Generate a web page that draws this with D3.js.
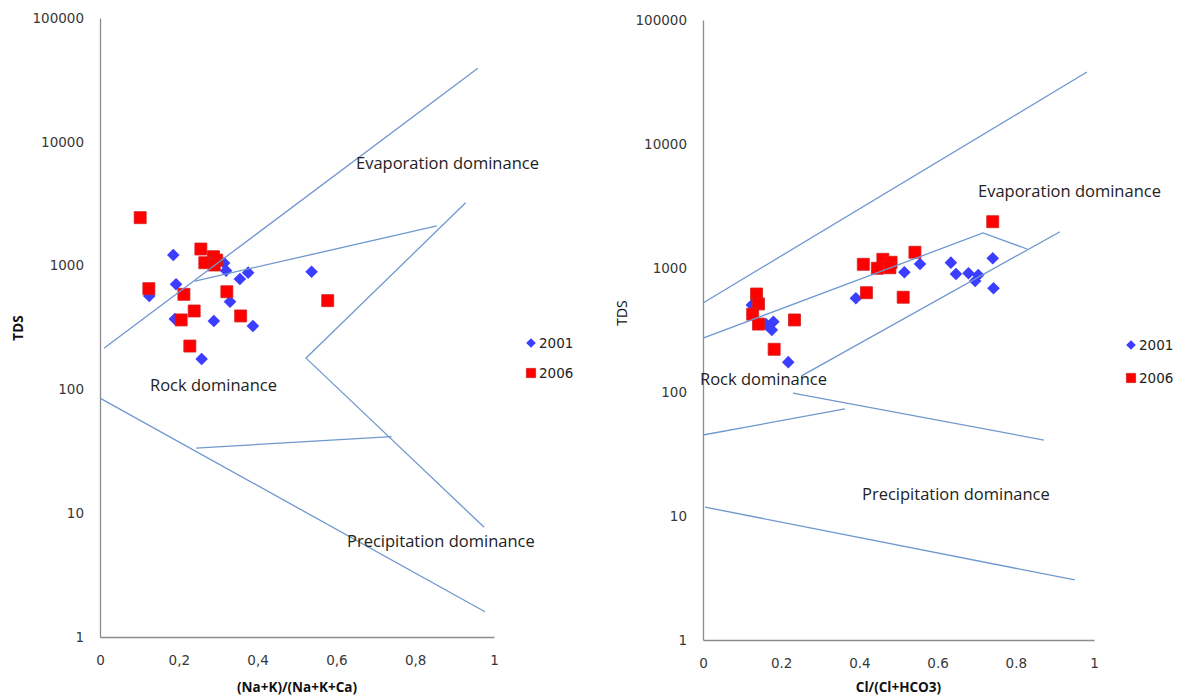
<!DOCTYPE html>
<html>
<head>
<meta charset="utf-8">
<script src="https://cdn.jsdelivr.net/npm/d3@7"></script>
<style>
  body { margin: 0; background: #fff; }
  .tick text { font-family: "DejaVu Sans", sans-serif; font-size: 13.5px; fill: #383838; }
  .note { font-family: "Open Sans", sans-serif; font-size: 16.5px; fill: #222; }
  .title { font-family: "Open Sans", sans-serif; font-size: 13.5px; fill: #111; }
  .legend { font-family: "DejaVu Sans", sans-serif; font-size: 13.5px; fill: #222; }
</style>
</head>
<body>
<script>
const width = 1180, height = 698;

const yTicks = [1, 10, 100, 1000, 10000, 100000];
const xTicks = [0, 0.2, 0.4, 0.6, 0.8, 1];
const seriesNames = ['2001', '2006'];

// left panel: (Na+K)/(Na+K+Ca) vs TDS
const leftX2001 = [0.186, 0.193, 0.125, 0.190, 0.289, 0.258, 0.330, 0.320, 0.355, 0.376, 0.537, 0.388, 0.315];
const leftY2001 = [1218, 706, 568, 370, 357, 176, 511, 910, 780, 877, 893, 325, 1050];
const leftX2006 = [0.102, 0.124, 0.256, 0.288, 0.296, 0.266, 0.290, 0.213, 0.322, 0.239, 0.206, 0.357, 0.228, 0.578];
const leftY2006 = [2440, 651, 1361, 1180, 1109, 1055, 1011, 586, 615, 430, 364, 392, 224, 521];
const leftBounds = [
  [[0.01, 215], [0.959, 39300]],
  [[0.241, 750], [0.855, 2090]],
  [[0.928, 3220], [0.523, 179], [0.975, 7.7]],
  [[0, 85], [0.977, 1.6]],
  [[0.244, 33.6], [0.740, 41.5]]
];

// right panel: Cl/(Cl+HCO3) vs TDS
const rightX2001 = [0.741, 0.743, 0.555, 0.515, 0.634, 0.647, 0.679, 0.704, 0.696, 0.391, 0.180, 0.176, 0.161, 0.218, 0.125];
const rightY2001 = [1197, 686, 1077, 923, 1104, 895, 906, 879, 786, 570, 369, 316, 353, 174, 503];
const rightX2006 = [0.741, 0.542, 0.410, 0.460, 0.481, 0.446, 0.478, 0.418, 0.512, 0.137, 0.142, 0.127, 0.142, 0.234, 0.182];
const rightY2006 = [2362, 1340, 1071, 1175, 1112, 995, 1005, 632, 581, 617, 513, 424, 353, 381, 221];
const rightBounds = [
  [[0, 522], [0.982, 38100]],
  [[0, 272], [0.716, 1915], [0.829, 1423]],
  [[0.252, 135], [0.913, 1962]],
  [[0.230, 98], [0.872, 41]],
  [[0, 45], [0.363, 73]],
  [[0.005, 11.8], [0.951, 3.05]]
];

const svg = d3.select('body').append('svg')
  .attr('width', width)
  .attr('height', height);

const diamond = r => `M0,${-r}L${r},0L0,${r}L${-r},0Z`;
const square = r => `M${-r},${-r}H${r}V${r}H${-r}Z`;

function panel(p) {
  const x = d3.scaleLinear().domain([0, 1]).range([p.x0, p.x1]);
  const y = d3.scaleLog().domain([1, 100000]).range([p.y0, p.y1]);
  const g = svg.append('g');

  g.append('g')
    .attr('transform', `translate(${p.x0},0)`)
    .call(d3.axisLeft(y).tickValues(yTicks).tickFormat(d3.format('d')).tickSize(0).tickPadding(16));
  g.append('g')
    .attr('transform', `translate(0,${p.y0})`)
    .call(d3.axisBottom(x).tickValues(xTicks).tickFormat(p.fmt).tickSize(0).tickPadding(18));
  g.selectAll('.domain').attr('stroke', '#8c8c8c').attr('stroke-width', 1.3);

  const pts2001 = p.x2001.map((v, i) => [v, p.y2001[i]]);
  const pts2006 = p.x2006.map((v, i) => [v, p.y2006[i]]);

  g.selectAll('.d2001').data(pts2001).enter().append('path')
    .attr('transform', d => `translate(${x(d[0])},${y(d[1])})`)
    .attr('d', diamond(6.3))
    .attr('fill', '#3b3dff');

  g.selectAll('.d2006').data(pts2006).enter().append('path')
    .attr('transform', d => `translate(${x(d[0])},${y(d[1])})`)
    .attr('d', square(6))
    .attr('fill', '#ff0000')
    .attr('stroke', '#d42020')
    .attr('stroke-width', 0.8);

  const line = d3.line().x(d => x(d[0])).y(d => y(d[1]));
  g.selectAll('.bound').data(p.bounds).enter().append('path')
    .attr('d', line)
    .attr('fill', 'none')
    .attr('stroke', '#6f98cf')
    .attr('stroke-width', 1.3);

  p.notes.forEach(n => {
    g.append('text').attr('class', 'note').attr('x', n[1]).attr('y', n[2]).text(n[0]);
  });

  g.append('text').attr('class', 'title')
    .attr('x', (p.x0 + p.x1) / 2).attr('y', 692)
    .attr('text-anchor', 'middle')
    .style('font-weight', 'bold')
    .text(p.xTitle);
  g.append('text').attr('class', 'title')
    .attr('transform', `translate(${p.tdsX},${p.tdsY}) rotate(-90)`)
    .attr('text-anchor', 'middle')
    .style('font-weight', p.tdsBold ? 'bold' : 'normal')
    .style('font-size', p.tdsBold ? '13.5px' : '14px')
    .text('TDS');

  // legend
  const lg = g.append('g');
  seriesNames.forEach((s, i) => {
    const cy = p.legY[i];
    lg.append('path')
      .attr('transform', `translate(${p.legX},${cy})`)
      .attr('d', i === 0 ? diamond(4.8) : square(4.6))
      .attr('fill', i === 0 ? '#3b3dff' : '#ff0000')
      .attr('stroke', i === 0 ? 'none' : '#d42020')
      .attr('stroke-width', 0.8);
    lg.append('text').attr('class', 'legend')
      .attr('x', p.legX + 8).attr('y', cy + 5)
      .text(s);
  });
}

panel({
  x0: 100, x1: 494, y0: 637, y1: 18,
  fmt: d => String(d).replace('.', ','),
  x2001: leftX2001, y2001: leftY2001, x2006: leftX2006, y2006: leftY2006,
  bounds: leftBounds,
  notes: [['Evaporation dominance', 356, 169], ['Rock dominance', 150, 391], ['Precipitation dominance', 347, 547]],
  xTitle: '(Na+K)/(Na+K+Ca)',
  tdsX: 23, tdsY: 328, tdsBold: true,
  legX: 531, legY: [343, 373]
});

panel({
  x0: 703, x1: 1094, y0: 640, y1: 20,
  fmt: d => String(d),
  x2001: rightX2001, y2001: rightY2001, x2006: rightX2006, y2006: rightY2006,
  bounds: rightBounds,
  notes: [['Evaporation dominance', 978, 197], ['Rock dominance', 700, 385], ['Precipitation dominance', 862, 500]],
  xTitle: 'Cl/(Cl+HCO3)',
  tdsX: 627, tdsY: 313, tdsBold: false,
  legX: 1131, legY: [345, 378]
});
</script>
</body>
</html>
